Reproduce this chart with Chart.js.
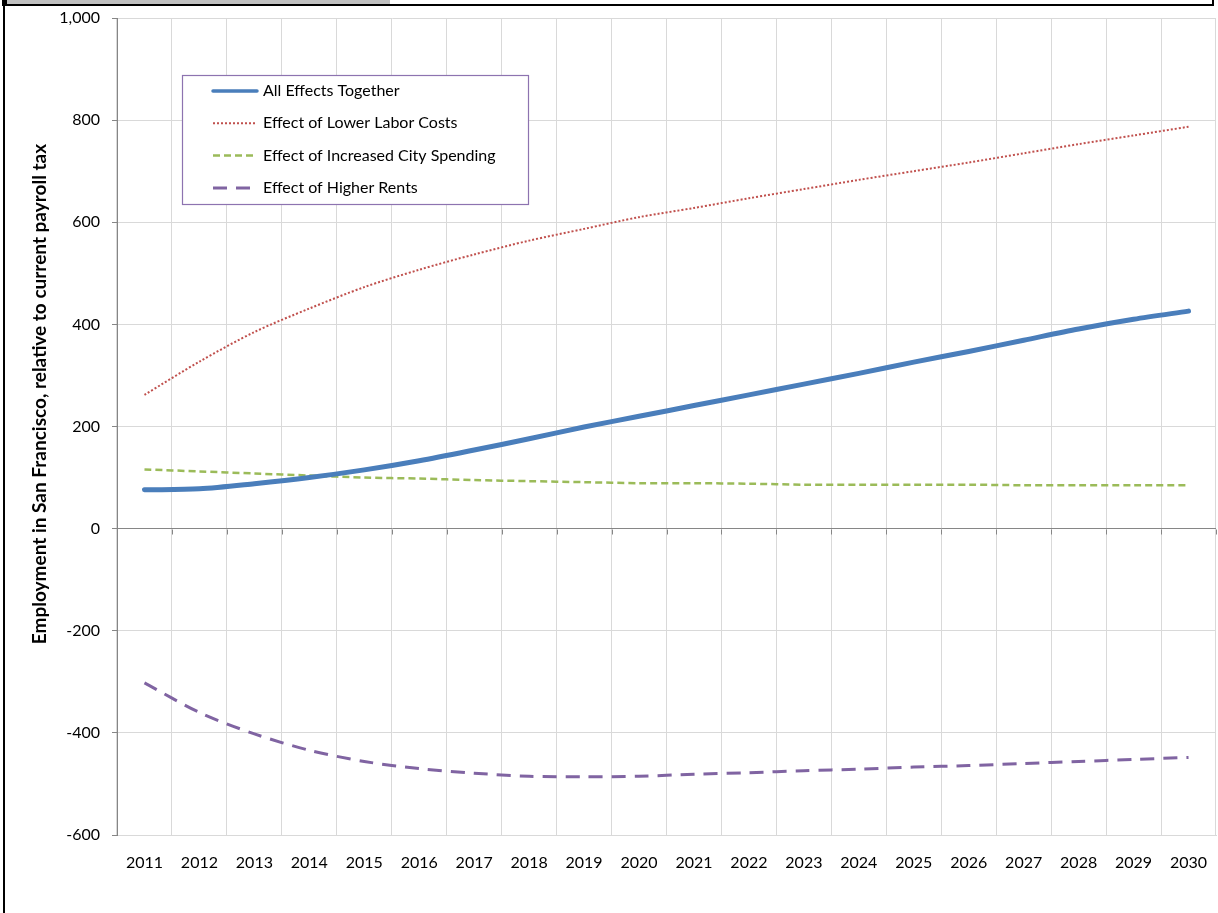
<!DOCTYPE html>
<html>
<head>
<meta charset="utf-8">
<script src="https://cdn.jsdelivr.net/npm/chart.js@4.4.1/dist/chart.umd.min.js"></script>
<style>
  html, body { margin: 0; padding: 0; background: #fff; }
  #wrap { position: relative; width: 1218px; height: 913px; }
</style>
</head>
<body>
<div id="wrap"><canvas id="chart"></canvas></div>
<script>
const YEARS = ['2011', '2012', '2013', '2014', '2015', '2016', '2017', '2018', '2019', '2020',
               '2021', '2022', '2023', '2024', '2025', '2026', '2027', '2028', '2029', '2030'];

const ALL_EFFECTS   = [76, 78, 88, 100, 115, 133, 154, 176, 199, 220, 241, 262, 283, 304, 326, 347, 369, 391, 410, 426];
const LABOR_COSTS   = [262, 327, 385, 431, 473, 507, 537, 564, 587, 610, 628, 647, 665, 683, 700, 717, 735, 753, 770, 787];
const CITY_SPENDING = [116, 112, 108, 104, 100, 98, 95, 93, 91, 89, 89, 88, 86, 86, 86, 86, 85, 85, 85, 85];
const HIGHER_RENTS  = [-302, -360, -402, -434, -456, -470, -479, -485, -486, -485, -481, -478, -474, -471, -467, -464, -460, -456, -452, -448];

const Y_TICKS = [-600, -400, -200, 0, 200, 400, 600, 800, 1000];

const FONT = 'Lato, "Open Sans", sans-serif';
const GRID = '#d9d9d9';
const AXIS = '#868686';

// window frame around the chart
const framePlugin = {
  id: 'frame',
  beforeDraw(chart) {
    const { ctx } = chart;
    ctx.save();
    ctx.fillStyle = '#c0c0c0';
    ctx.fillRect(7, 0, 383, 4);
    ctx.fillStyle = '#000';
    ctx.fillRect(2, 0, 5, 6);
    ctx.fillRect(3, 4, 1211, 2);
    ctx.fillRect(3, 0, 2, 913);
    ctx.fillRect(1212, 0, 2, 6);
    ctx.restore();
  },
};

// horizontal axis sits on the zero line, with ticks between categories
const zeroAxisPlugin = {
  id: 'zeroAxis',
  beforeDatasetsDraw(chart) {
    const { ctx, scales: { x, y } } = chart;
    const y0 = Math.round(y.getPixelForValue(0)) + 0.5;
    const step = x.width / YEARS.length;
    ctx.save();
    ctx.strokeStyle = AXIS;
    ctx.lineWidth = 1;
    ctx.beginPath();
    for (let i = 0; i <= YEARS.length; i++) {
      const px = Math.round(x.left + i * step) + 0.5;
      ctx.moveTo(px, y0);
      ctx.lineTo(px, y0 + 5);
    }
    ctx.stroke();
    ctx.restore();
  },
};

const legendBoxPlugin = {
  id: 'legendBox',
  afterDraw(chart) {
    const { ctx } = chart;
    const bx = 182.5, by = 75.5, bw = 346, bh = 129;
    ctx.save();
    ctx.fillStyle = '#fff';
    ctx.fillRect(bx, by, bw, bh);
    ctx.strokeStyle = '#8d73b0';
    ctx.lineWidth = 1.2;
    ctx.strokeRect(bx, by, bw, bh);
    ctx.font = `16px ${FONT}`;
    ctx.textBaseline = 'middle';
    chart.data.datasets.forEach((ds, i) => {
      const cy = 91 + i * 32.3;
      ctx.strokeStyle = ds.borderColor;
      ctx.lineWidth = Math.min(ds.borderWidth, 3.5);
      ctx.setLineDash(ds.borderDash || []);
      ctx.lineCap = ds.borderCapStyle || 'butt';
      ctx.beginPath();
      ctx.moveTo(213, cy);
      ctx.lineTo(257, cy);
      ctx.stroke();
      ctx.setLineDash([]);
      ctx.fillStyle = '#000';
      ctx.fillText(ds.label, 263, cy);
    });
    ctx.restore();
  },
};

const axisTitlePlugin = {
  id: 'axisTitle',
  afterDraw(chart) {
    const { ctx } = chart;
    ctx.save();
    ctx.translate(40, 394);
    ctx.rotate(-Math.PI / 2);
    ctx.font = `bold 19px ${FONT}`;
    ctx.fillStyle = '#000';
    ctx.textAlign = 'center';
    ctx.textBaseline = 'middle';
    ctx.fillText('Employment in San Francisco, relative to current payroll tax', 0, 0);
    ctx.restore();
  },
};

new Chart(document.getElementById('chart'), {
  type: 'line',
  plugins: [framePlugin, zeroAxisPlugin, legendBoxPlugin, axisTitlePlugin],
  data: {
    labels: YEARS,
    datasets: [
      {
        label: 'All Effects Together',
        data: ALL_EFFECTS,
        borderColor: '#4a7ebb',
        borderWidth: 5,
        borderCapStyle: 'round',
        tension: 0.3,
        pointRadius: 0,
      },
      {
        label: 'Effect of Lower Labor Costs',
        data: LABOR_COSTS,
        borderColor: '#c0504d',
        borderWidth: 2,
        borderDash: [2, 2],
        tension: 0.3,
        pointRadius: 0,
      },
      {
        label: 'Effect of Increased City Spending',
        data: CITY_SPENDING,
        borderColor: '#9bbb59',
        borderWidth: 2.5,
        borderDash: [7, 4],
        tension: 0.3,
        pointRadius: 0,
      },
      {
        label: 'Effect of Higher Rents',
        data: HIGHER_RENTS,
        borderColor: '#8064a2',
        borderWidth: 3,
        borderDash: [14, 9],
        tension: 0.3,
        pointRadius: 0,
      },
    ],
  },
  options: {
    responsive: true,
    maintainAspectRatio: false,
    animation: false,
    devicePixelRatio: 1,
    layout: { padding: { left: 0, top: 18, right: 2, bottom: 0 } },
    plugins: {
      legend: { display: false },
      tooltip: { enabled: false },
    },
    scales: {
      x: {
        offset: true,
        grid: { color: GRID, offset: true, drawTicks: false },
        border: { color: GRID },
        ticks: {
          font: { family: FONT, size: 16 },
          color: '#000',
          padding: 18,
          maxRotation: 0,
          autoSkip: false,
        },
        afterFit(scale) {
          scale.height = 78;
          scale.paddingLeft = 0;
          scale.paddingRight = 0;
        },
      },
      y: {
        min: -600,
        max: 1000,
        afterBuildTicks(scale) { scale.ticks = Y_TICKS.map(v => ({ value: v })); },
        grid: {
          color: ctx => (ctx.tick && ctx.tick.value === 0 ? AXIS : GRID),
          tickColor: AXIS,
          tickLength: 5,
        },
        border: { color: AXIS },
        ticks: {
          font: { family: FONT, size: 16 },
          color: '#000',
          padding: 12,
          callback: v => v.toLocaleString('en-US'),
        },
        afterFit(scale) {
          scale.width = 117;
          scale.paddingTop = 0;
          scale.paddingBottom = 0;
        },
      },
    },
  },
});
</script>
</body>
</html>
